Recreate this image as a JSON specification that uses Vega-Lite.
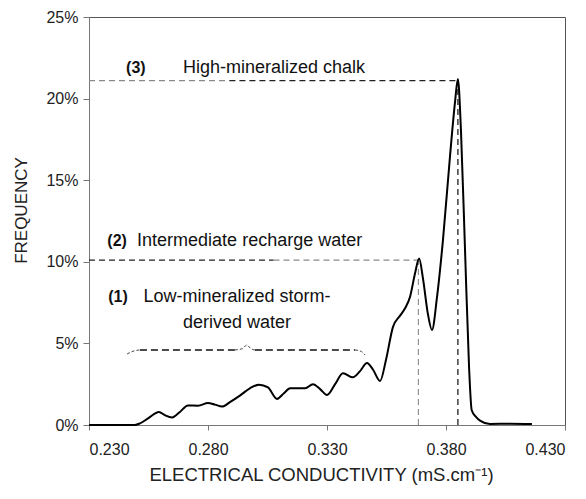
{
  "$schema": "https://vega.github.io/schema/vega-lite/v6.json",
  "width": 476,
  "height": 408,
  "autosize": "none",
  "padding": {"left": 89, "top": 17, "right": 21, "bottom": 74},
  "background": "white",
  "config": {
    "font": "Liberation Sans",
    "view": {"stroke": "#555", "strokeWidth": 1},
    "axis": {"grid": false, "domainColor": "#777", "tickColor": "#777", "labelColor": "#222", "titleColor": "#222", "titleFontWeight": "normal", "labelFont": "Liberation Sans", "titleFont": "Liberation Sans"}
  },
  "datasets": {
    "curve": [
      {"ec": 0.230, "freq": 0}, {"ec": 0.2493, "freq": 0}, {"ec": 0.2514, "freq": 0.1}, {"ec": 0.2548, "freq": 0.4},
      {"ec": 0.2594, "freq": 0.8}, {"ec": 0.2619, "freq": 0.6}, {"ec": 0.2649, "freq": 0.46}, {"ec": 0.2682, "freq": 0.8},
      {"ec": 0.2716, "freq": 1.2}, {"ec": 0.2758, "freq": 1.18}, {"ec": 0.2800, "freq": 1.35}, {"ec": 0.2829, "freq": 1.25},
      {"ec": 0.2859, "freq": 1.13}, {"ec": 0.2892, "freq": 1.4}, {"ec": 0.2934, "freq": 1.8}, {"ec": 0.2976, "freq": 2.25},
      {"ec": 0.3014, "freq": 2.47}, {"ec": 0.3052, "freq": 2.3}, {"ec": 0.3090, "freq": 1.6}, {"ec": 0.3119, "freq": 1.95},
      {"ec": 0.3145, "freq": 2.25}, {"ec": 0.3208, "freq": 2.25}, {"ec": 0.3241, "freq": 2.5}, {"ec": 0.3271, "freq": 2.2},
      {"ec": 0.3300, "freq": 1.84}, {"ec": 0.3334, "freq": 2.5}, {"ec": 0.3367, "freq": 3.17}, {"ec": 0.3409, "freq": 2.92},
      {"ec": 0.3439, "freq": 3.3}, {"ec": 0.3468, "freq": 3.8}, {"ec": 0.3493, "freq": 3.4}, {"ec": 0.3523, "freq": 2.7},
      {"ec": 0.3548, "freq": 4.0}, {"ec": 0.3577, "freq": 6.0}, {"ec": 0.3607, "freq": 6.7}, {"ec": 0.3628, "freq": 7.15},
      {"ec": 0.3649, "freq": 7.86}, {"ec": 0.3670, "freq": 9.3}, {"ec": 0.3687, "freq": 10.2}, {"ec": 0.3703, "freq": 9.0},
      {"ec": 0.3724, "freq": 6.8}, {"ec": 0.3741, "freq": 5.82}, {"ec": 0.3762, "freq": 7.8}, {"ec": 0.3787, "freq": 11.3},
      {"ec": 0.3817, "freq": 16.5}, {"ec": 0.3838, "freq": 19.8}, {"ec": 0.3850, "freq": 21.2}, {"ec": 0.3863, "freq": 18.0},
      {"ec": 0.3880, "freq": 10.7}, {"ec": 0.3897, "freq": 3.5}, {"ec": 0.3908, "freq": 0.9}, {"ec": 0.3926, "freq": 0.5},
      {"ec": 0.3943, "freq": 0.27}, {"ec": 0.3985, "freq": 0.06}, {"ec": 0.4069, "freq": 0.08}, {"ec": 0.4161, "freq": 0.06}
    ],
    "guides": [
      {"x1": 0.230, "x2": 0.289, "y1": 21.1, "y2": 21.1, "tone": "light"},
      {"x1": 0.289, "x2": 0.385, "y1": 21.1, "y2": 21.1, "tone": "dark"},
      {"x1": 0.385, "x2": 0.385, "y1": 0, "y2": 21.1, "tone": "dark"},
      {"x1": 0.230, "x2": 0.3075, "y1": 10.1, "y2": 10.1, "tone": "dark"},
      {"x1": 0.3075, "x2": 0.3684, "y1": 10.1, "y2": 10.1, "tone": "light"},
      {"x1": 0.3684, "x2": 0.3684, "y1": 0, "y2": 10.1, "tone": "light"}
    ],
    "bracket": [
      {"ec": 0.2460, "freq": 4.35, "seg": "c1", "part": "curl"},
      {"ec": 0.2485, "freq": 4.52, "seg": "c1", "part": "curl"},
      {"ec": 0.2514, "freq": 4.6, "seg": "c1", "part": "curl"},
      {"ec": 0.2514, "freq": 4.6, "seg": "f1", "part": "flat"},
      {"ec": 0.2913, "freq": 4.6, "seg": "f1", "part": "flat"},
      {"ec": 0.2913, "freq": 4.6, "seg": "c2", "part": "curl"},
      {"ec": 0.2945, "freq": 4.68, "seg": "c2", "part": "curl"},
      {"ec": 0.2963, "freq": 4.9, "seg": "c2", "part": "curl"},
      {"ec": 0.2980, "freq": 4.68, "seg": "c2", "part": "curl"},
      {"ec": 0.2997, "freq": 4.6, "seg": "c2", "part": "curl"},
      {"ec": 0.2997, "freq": 4.6, "seg": "f2", "part": "flat"},
      {"ec": 0.3418, "freq": 4.6, "seg": "f2", "part": "flat"},
      {"ec": 0.3418, "freq": 4.6, "seg": "c3", "part": "curl"},
      {"ec": 0.3445, "freq": 4.5, "seg": "c3", "part": "curl"},
      {"ec": 0.3460, "freq": 4.29, "seg": "c3", "part": "curl"}
    ],
    "markers": [
      {"ec": 0.2497, "freq": 21.85, "label": "(3)"},
      {"ec": 0.2418, "freq": 11.27, "label": "(2)"},
      {"ec": 0.2422, "freq": 7.84, "label": "(1)"}
    ],
    "descs": [
      {"ec": 0.2695, "freq": 21.85, "label": "High-mineralized chalk"},
      {"ec": 0.2502, "freq": 11.27, "label": "Intermediate recharge water"}
    ],
    "centred": [
      {"ec": 0.2922, "freq": 7.84, "label": "Low-mineralized storm-"},
      {"ec": 0.2922, "freq": 6.25, "label": "derived water"}
    ]
  },
  "layer": [
    {
      "data": {"name": "guides"},
      "transform": [{"filter": "datum.tone === 'light'"}],
      "mark": {"type": "rule", "color": "#8a8a8a", "strokeWidth": 1.1, "strokeDash": [6, 4]},
      "encoding": {
        "x": {"field": "x1", "type": "quantitative", "scale": {"domain": [0.23, 0.43]}},
        "x2": {"field": "x2"},
        "y": {"field": "y1", "type": "quantitative", "scale": {"domain": [0, 25]}},
        "y2": {"field": "y2"}
      }
    },
    {
      "data": {"name": "guides"},
      "transform": [{"filter": "datum.tone === 'dark'"}],
      "mark": {"type": "rule", "color": "#222", "strokeWidth": 1.3, "strokeDash": [6, 4]},
      "encoding": {
        "x": {"field": "x1", "type": "quantitative"},
        "x2": {"field": "x2"},
        "y": {"field": "y1", "type": "quantitative"},
        "y2": {"field": "y2"}
      }
    },
    {
      "data": {"name": "bracket"},
      "transform": [{"filter": "datum.part === 'curl'"}],
      "mark": {"type": "line", "color": "#333", "strokeWidth": 0.9, "strokeDash": [3, 2], "interpolate": "monotone"},
      "encoding": {
        "x": {"field": "ec", "type": "quantitative"},
        "y": {"field": "freq", "type": "quantitative"},
        "detail": {"field": "seg"}
      }
    },
    {
      "data": {"name": "bracket"},
      "transform": [{"filter": "datum.part === 'flat'"}],
      "mark": {"type": "line", "color": "#111", "strokeWidth": 1.5, "strokeDash": [7, 4]},
      "encoding": {
        "x": {"field": "ec", "type": "quantitative"},
        "y": {"field": "freq", "type": "quantitative"},
        "detail": {"field": "seg"}
      }
    },
    {
      "data": {"name": "curve"},
      "mark": {"type": "line", "color": "#000", "strokeWidth": 2, "interpolate": "monotone"},
      "encoding": {
        "x": {
          "field": "ec", "type": "quantitative",
          "scale": {"domain": [0.23, 0.43], "nice": false, "zero": false},
          "axis": {
            "values": [0.23, 0.28, 0.33, 0.38, 0.43], "format": ".3f",
            "labelFontSize": 16, "tickSize": 5, "labelPadding": 11,
            "title": "ELECTRICAL CONDUCTIVITY (mS.cm⁻¹)", "titleFontSize": 18.5,
            "titleX": 232, "titleY": 55, "titleBaseline": "alphabetic"
          }
        },
        "y": {
          "field": "freq", "type": "quantitative",
          "scale": {"domain": [0, 25], "nice": false},
          "axis": {
            "values": [0, 5, 10, 15, 20, 25], "labelExpr": "datum.value + '%'",
            "labelFontSize": 16, "tickSize": 6, "labelPadding": 5,
            "title": "FREQUENCY", "titleFontSize": 17,
            "titleX": -63, "titleY": 193, "titleBaseline": "alphabetic"
          }
        }
      }
    },
    {
      "data": {"name": "markers"},
      "mark": {"type": "text", "fontSize": 16, "fontWeight": "bold", "align": "center", "baseline": "middle", "color": "#111"},
      "encoding": {
        "x": {"field": "ec", "type": "quantitative"},
        "y": {"field": "freq", "type": "quantitative"},
        "text": {"field": "label"}
      }
    },
    {
      "data": {"name": "descs"},
      "mark": {"type": "text", "fontSize": 18, "align": "left", "baseline": "middle", "color": "#111"},
      "encoding": {
        "x": {"field": "ec", "type": "quantitative"},
        "y": {"field": "freq", "type": "quantitative"},
        "text": {"field": "label"}
      }
    },
    {
      "data": {"name": "centred"},
      "mark": {"type": "text", "fontSize": 18, "align": "center", "baseline": "middle", "color": "#111"},
      "encoding": {
        "x": {"field": "ec", "type": "quantitative"},
        "y": {"field": "freq", "type": "quantitative"},
        "text": {"field": "label"}
      }
    }
  ]
}
